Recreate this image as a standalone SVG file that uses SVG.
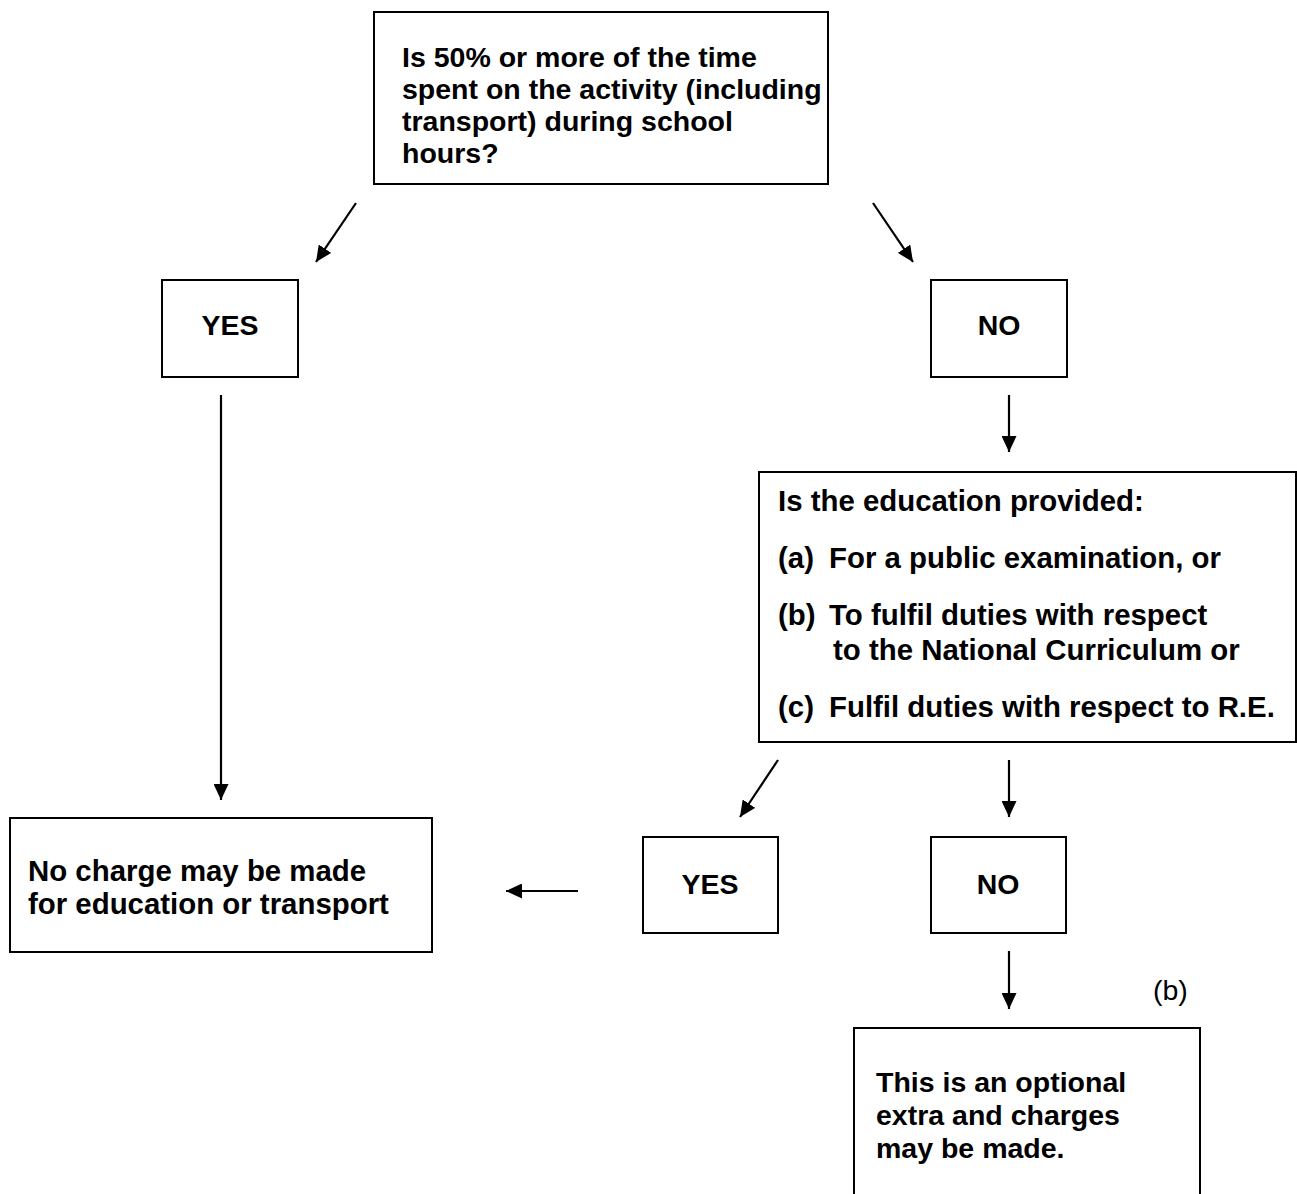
<svg xmlns="http://www.w3.org/2000/svg" width="1297" height="1194" viewBox="0 0 1297 1194">
<style>
.box{fill:#fff;stroke:#000;stroke-width:2}
.t{font-family:"Liberation Sans",Arial,sans-serif;font-weight:bold;font-size:28.5px;fill:#000}
.m{font-size:29.4px}
.c{text-anchor:middle}
.r{font-family:"Liberation Sans",Arial,sans-serif;font-size:28.5px;fill:#000}
.ln{stroke:#000;stroke-width:2.2;fill:none;marker-end:url(#ah)}
</style>
<defs>
<marker id="ah" viewBox="0 0 16 15" refX="16" refY="7.5" markerWidth="16" markerHeight="15" markerUnits="userSpaceOnUse" orient="auto">
<path d="M0,0 L16,7.5 L0,15 z" fill="#000"/>
</marker>
</defs>
<rect width="1297" height="1194" fill="#fff"/>
<g id="q1">
<rect class="box" x="374" y="12" width="454" height="172"/>
<text class="t" x="402" y="67">Is 50% or more of the time</text>
<text class="t" x="402" y="99">spent on the activity (including</text>
<text class="t" x="402" y="131">transport) during school</text>
<text class="t" x="402" y="163">hours?</text>
</g>
<g id="yes1">
<rect class="box" x="162" y="280" width="136" height="97"/>
<text class="t c" x="230" y="335">YES</text>
</g>
<g id="no1">
<rect class="box" x="931" y="280" width="136" height="97"/>
<text class="t c" x="999" y="335">NO</text>
</g>
<g id="q2">
<rect class="box" x="759" y="472" width="537" height="270"/>
<text class="t m" x="778" y="511">Is the education provided:</text>
<text class="t m" x="778" y="568">(a)<tspan x="829">For a public examination, or</tspan></text>
<text class="t m" x="778" y="625">(b)<tspan x="829">To fulfil duties with respect</tspan></text>
<text class="t m" x="833" y="660">to the National Curriculum or</text>
<text class="t m" x="778" y="717">(c)<tspan x="829">Fulfil duties with respect to R.E.</tspan></text>
</g>
<g id="nocharge">
<rect class="box" x="10" y="818" width="422" height="134"/>
<text class="t m" x="28" y="881">No charge may be made</text>
<text class="t m" x="28" y="914">for education or transport</text>
</g>
<g id="yes2">
<rect class="box" x="643" y="837" width="135" height="96"/>
<text class="t c" x="710" y="894">YES</text>
</g>
<g id="no2">
<rect class="box" x="931" y="837" width="135" height="96"/>
<text class="t c" x="998" y="894">NO</text>
</g>
<g id="optional">
<rect class="box" x="854" y="1028" width="346" height="190"/>
<text class="t" x="876" y="1092">This is an optional</text>
<text class="t" x="876" y="1125">extra and charges</text>
<text class="t" x="876" y="1158">may be made.</text>
</g>
<text class="r" x="1153" y="1000">(b)</text>
<g id="connectors">
<line class="ln" x1="356" y1="203" x2="316" y2="262"/>
<line class="ln" x1="873" y1="203" x2="913" y2="262"/>
<line class="ln" x1="221" y1="395" x2="221" y2="800"/>
<line class="ln" x1="1009" y1="395" x2="1009" y2="452"/>
<line class="ln" x1="778" y1="760" x2="740" y2="817"/>
<line class="ln" x1="1009" y1="760" x2="1009" y2="817"/>
<line class="ln" x1="578" y1="891" x2="506" y2="891"/>
<line class="ln" x1="1009" y1="951" x2="1009" y2="1009"/>
</g>
</svg>
